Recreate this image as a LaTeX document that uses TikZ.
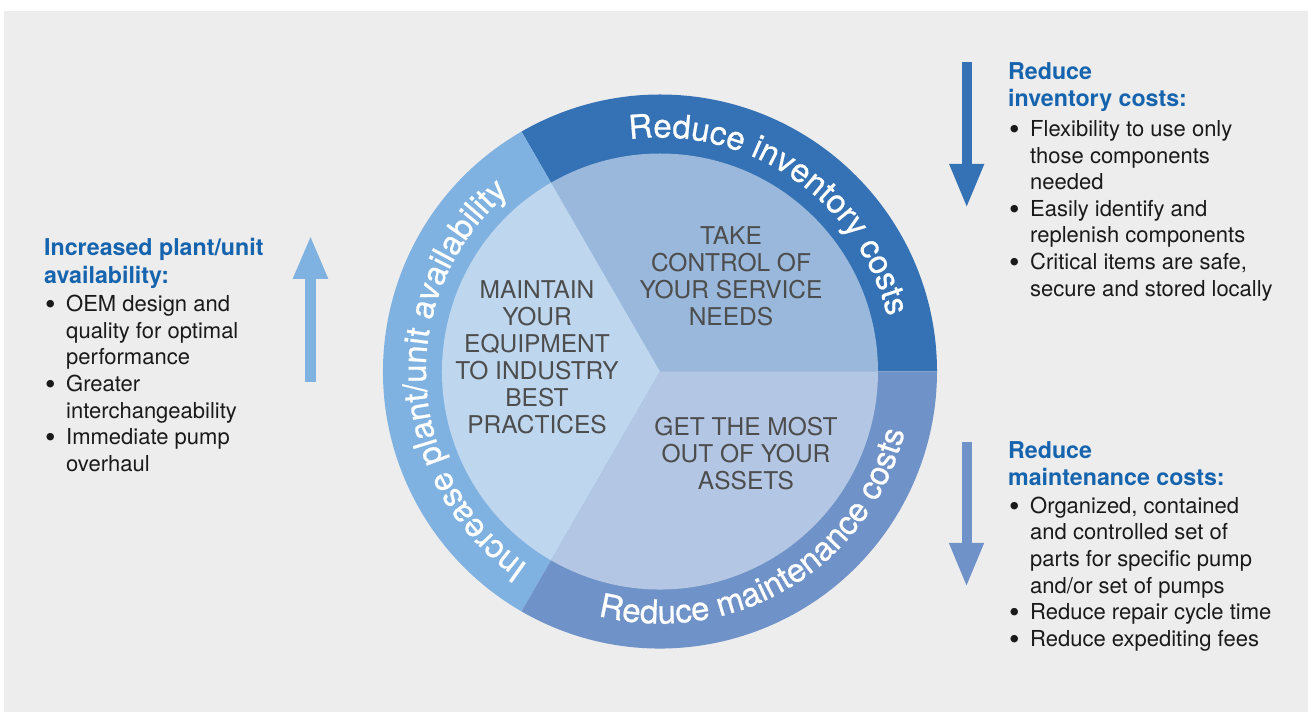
\documentclass[tikz,border=0pt]{standalone}
\usepackage{fontspec}
\setmainfont{TeX Gyre Heros}
\newfontfamily\ringfamily[FakeBold=0.6]{TeX Gyre Heros}
\usetikzlibrary{arrows.meta,decorations.text}

\definecolor{bggray}{HTML}{EDEDED}
\definecolor{ringtop}{HTML}{3572B5}
\definecolor{ringleft}{HTML}{80B2E1}
\definecolor{ringbot}{HTML}{6F92C8}
\definecolor{coretop}{HTML}{99B8DB}
\definecolor{coreleft}{HTML}{BED7EF}
\definecolor{corebot}{HTML}{B3C7E4}
\definecolor{headblue}{HTML}{1764AE}
\definecolor{coregray}{HTML}{4D4D4D}
\definecolor{bodyblack}{HTML}{1A1A1A}

\newcommand{\ringfont}{\ringfamily\fontsize{33}{33}\selectfont}
\newcommand{\headfont}{\fontsize{23.2}{27.5}\selectfont\bfseries\color{headblue}}
\newcommand{\bodyfont}{\fontsize{22}{26.6}\selectfont\color{bodyblack}}
\newcommand{\corefont}{\fontsize{24.5}{27}\selectfont\color{coregray}}
\newcommand{\bul}{\makebox[22pt][l]{\hspace{1pt}\raisebox{-3pt}{\fontsize{30}{0}\selectfont\textbullet}}}
\newcommand{\bulgap}{\hspace*{22pt}}

\begin{document}
\begin{tikzpicture}[x=1pt,y=1pt,
    ringtext/.style={decorate, decoration={text along path, text align=center,
        text color=white, text={|\ringfont|#1}}},
    bigarrow/.style={line width=10pt, -{Triangle[width=32pt,length=44pt]}},
    block/.style={anchor=base west, inner sep=0pt},
    core/.style={align=center, inner sep=0pt, font=\corefont}]
    \useasboundingbox (0,0) rectangle (1308,712);
    \fill[bggray] (4,0) rectangle (1308,701);

    % wheel: outer ring and inner core
    \begin{scope}[shift={(660,340.5)}]
    \fill[ringtop] (0,0) -- (0:277) arc[start angle=0, end angle=120, radius=277] -- cycle;
    \fill[ringleft] (0,0) -- (120:277) arc[start angle=120, end angle=240, radius=277] -- cycle;
    \fill[ringbot] (0,0) -- (240:277) arc[start angle=240, end angle=360, radius=277] -- cycle;
    \fill[coretop] (0,0) -- (0:218) arc[start angle=0, end angle=120, radius=218] -- cycle;
    \fill[coreleft] (0,0) -- (120:218) arc[start angle=120, end angle=240, radius=218] -- cycle;
    \fill[corebot] (0,0) -- (240:218) arc[start angle=240, end angle=360, radius=218] -- cycle;
    \path[ringtext={Reduce inventory costs}] (115.5:234) arc[start angle=115.5, end angle=-4.5, radius=234];
    \path[ringtext={Increase plant/unit availability}] (253:234) arc[start angle=253, end angle=113, radius=234];
    \path[ringtext={Reduce maintenance costs}] (231:252) arc[start angle=231, end angle=371, radius=252];
    \end{scope}

    \node[core] (control) at (731,435.5) {TAKE\\CONTROL OF\\YOUR SERVICE\\NEEDS};
    \node[core] (maintain) at (537,354.5) {MAINTAIN\\YOUR\\EQUIPMENT\\TO INDUSTRY\\BEST\\PRACTICES};
    \node[core] (assets) at (746,258) {GET THE MOST\\OUT OF YOUR\\ASSETS};

    % arrows
    \coordinate (invtop) at (966.7,650); \coordinate (invtip) at (966.7,504);
    \coordinate (maintop) at (966.5,270); \coordinate (maintip) at (966.5,125);
    \coordinate (availbot) at (310.5,330); \coordinate (availtip) at (310.5,477);
    \draw[bigarrow, ringtop] (invtop) -- (invtip);
    \draw[bigarrow, ringbot] (maintop) -- (maintip);
    \draw[bigarrow, ringleft, line width=11pt] (availbot) -- (availtip);

    % text blocks
    \node[block] (invhead) at (1008,632.5) {\parbox[t]{300pt}{\leavevmode\headfont Reduce\\inventory costs:}};
    \node[block] (invlist) at (1008,575.5) {\parbox[t]{300pt}{\leavevmode\bodyfont
        \bul Flexibility to use only\\ \bulgap those components\\ \bulgap needed\\
        \bul Easily identify and\\ \bulgap replenish components\\
        \bul Critical items are safe,\\ \bulgap secure and stored locally}};
    \node[block] (mainhead) at (1008,253.7) {\parbox[t]{300pt}{\leavevmode\headfont Reduce\\maintenance costs:}};
    \node[block] (mainlist) at (1008,198.7) {\parbox[t]{300pt}{\leavevmode\bodyfont
        \bul Organized, contained\\ \bulgap and controlled set of\\ \bulgap parts for specific pump\\ \bulgap and/or set of pumps\\
        \bul Reduce repair cycle time\\
        \bul Reduce expediting fees}};
    \node[block] (availhead) at (44,456.3) {\parbox[t]{300pt}{\leavevmode\headfont Increased plant/unit\\availability:}};
    \node[block] (availlist) at (44,400.3) {\parbox[t]{300pt}{\leavevmode\bodyfont
        \bul OEM design and\\ \bulgap quality for optimal\\ \bulgap performance\\
        \bul Greater\\ \bulgap interchangeability\\
        \bul Immediate pump\\ \bulgap overhaul}};
\end{tikzpicture}
\end{document}
